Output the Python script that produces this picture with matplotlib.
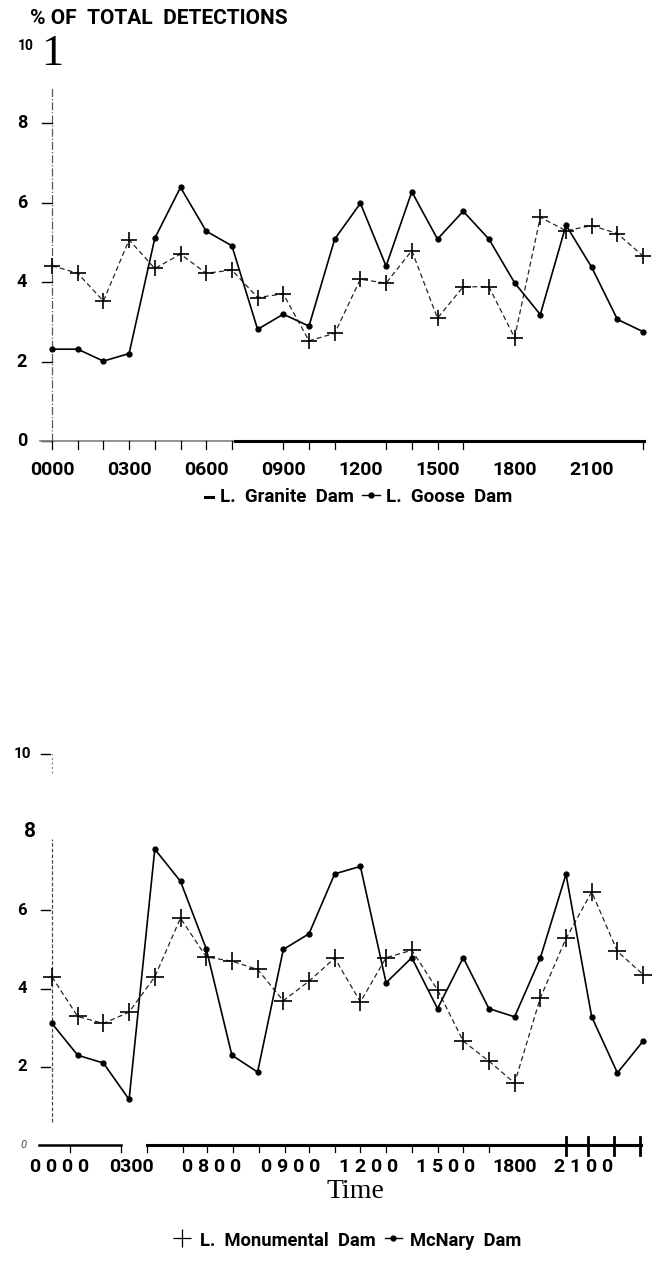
import numpy as np
import matplotlib
matplotlib.use('Agg')
import matplotlib.pyplot as plt

# ---------------- data ----------------
hours = np.arange(24)
granite = [4.41, 4.22, 3.52, 5.06, 4.34, 4.70, 4.22, 4.30, 3.61, 3.70, 2.52, 2.71,
           4.07, 3.97, 4.79, 3.09, 3.88, 3.88, 2.60, 5.63, 5.29, 5.42, 5.22, 4.65]
goose = [2.31, 2.31, 2.01, 2.20, 5.10, 6.38, 5.28, 4.91, 2.81, 3.19, 2.89, 5.08,
         5.98, 4.40, 6.27, 5.08, 5.78, 5.08, 3.98, 3.18, 5.43, 4.37, 3.06, 2.75]
monumental = [4.30, 3.29, 3.11, 3.40, 4.30, 5.80, 4.81, 4.70, 4.49, 3.69, 4.19, 4.78,
              3.66, 4.79, 4.98, 3.97, 2.66, 2.15, 1.59, 3.76, 5.28, 6.47, 4.95, 4.36]
mcnary = [3.11, 2.30, 2.10, 1.17, 7.56, 6.74, 5.02, 2.30, 1.87, 5.00, 5.40, 6.93,
          7.12, 4.15, 4.79, 3.49, 4.79, 3.49, 3.28, 4.78, 6.92, 3.28, 1.85, 2.66]

top_yticks = [0, 2, 4, 6, 8]
top_xlabels = ['0000', '0300', '0600', '0900', '1200', '1500', '1800', '2100']
top_xlabel_hours = [0, 3, 6, 9, 12, 15, 18, 21]
top_minor_hours = [0, 1, 2, 3, 4, 5, 6, 7, 9, 10, 11, 13, 14, 15, 16, 23]

bottom_yticks = [2, 4, 6, 8, 10]
bottom_xlabels = ['0 0 0 0', '0300', '0 8 0 0', '0 9 0 0', '1 2 0 0', '1 5 0 0', '1800', '2 1 0 0']
bottom_xlabel_hours = [0.3, 3.1, 6.2, 9.3, 12.3, 15.3, 18.0, 20.7]
bottom_minor_hours = [0.7, 2.7, 3.7, 5.1, 6.05, 7.05, 8.05, 9.05, 10.0, 11.0, 12.0, 13.0, 14.0, 15.0, 16.0, 17.0]
bottom_major_hours = [20.0, 20.87, 21.87, 22.88]

titles = {'y': '% OF  TOTAL  DETECTIONS', 'x': 'Time'}
legend_top = ['L.  Granite  Dam', 'L.  Goose  Dam']
legend_bottom = ['L.  Monumental  Dam', 'McNary  Dam']

# ---------------- layout helpers ----------------
W, H = 669, 1276
SANS = ['Roboto', 'DejaVu Sans']
SERIF = ['Liberation Serif', 'DejaVu Serif']

fig = plt.figure(figsize=(W / 100, H / 100), dpi=100)


def X(px):
    return (px - 52) / 25.7


def axes_px(top, bottom):
    return fig.add_axes([0, 1 - bottom / H, 1, (bottom - top) / H])


# ---------------- top panel ----------------
ax = axes_px(0, 560)
Yt = lambda py: (441 - py) / 39.75
ax.set_xlim(X(0), X(W))
ax.set_ylim(Yt(560), Yt(0))
ax.axis('off')

# y axis
ax.plot([0, 0], [0, Yt(88)], color='0.35', lw=0.9, ls='-.', clip_on=False)
for v in top_yticks:
    ax.plot([X(42), 0], [v, v], color='k', lw=1.0)
    ax.text(X(22), v, str(v), ha='center', va='center', fontsize=13,
            fontweight='bold', family=SANS)
ax.text(X(26), Yt(46), '10', ha='center', va='center', fontsize=10,
        fontweight='bold', family=SANS)
ax.text(X(52), Yt(54), '1', ha='center', va='center', fontsize=32, family=SERIF)

# x axis
ax.plot([X(40), X(235)], [0, 0], color='0.5', lw=1.2)
ax.plot([X(235), X(644)], [0, 0], color='k', lw=2.2)
for h in top_minor_hours:
    ax.plot([h, h], [0, Yt(449)], color='k', lw=0.9)
for h, lab in zip(top_xlabel_hours, top_xlabels):
    ax.text(h, Yt(470), lab, ha='center', va='center', fontsize=14,
            fontweight='bold', family=SANS)

ax.text(X(30), Yt(18), titles['y'], ha='left', va='center', fontsize=15,
        fontweight='bold', family=SANS)

# series
ax.plot(hours, granite, color='0.15', lw=0.9, ls=(0, (4, 2.5)), marker='+',
        ms=11, mew=1.2, mec='k')
ax.plot(hours, goose, color='k', lw=1.2, marker='o', ms=3.5)

# legend
ly = Yt(497)
ax.plot([X(205), X(213)], [ly, ly], color='k', lw=2.2)
ax.text(X(220), ly, legend_top[0], ha='left', va='center', fontsize=13.5,
        fontweight='bold', family=SANS)
ax.plot([X(362), X(380)], [ly + 0.05, ly + 0.05], color='k', lw=1.0)
ax.plot([X(371)], [ly + 0.05], 'ko', ms=3.5)
ax.text(X(386), ly, legend_top[1], ha='left', va='center', fontsize=13.5,
        fontweight='bold', family=SANS)

# ---------------- bottom panel ----------------
bx = axes_px(600, H)
Yb = lambda py: (1145.3 - py) / 39.17
bx.set_xlim(X(0), X(W))
bx.set_ylim(Yb(H), Yb(600))
bx.axis('off')

bx.plot([0, 0], [Yb(1122), Yb(839)], color='0.3', lw=0.9, ls=(0, (3, 1.5)), clip_on=False)
bx.plot([0, 0], [Yb(773), 10], color='0.5', lw=0.8, ls=(0, (2, 2)))
for v in bottom_yticks:
    if v == 8:
        bx.text(X(30), v, str(v), ha='center', va='center', fontsize=15,
                fontweight='bold', family=SANS)
        continue
    bx.plot([X(41), X(50)], [v, v], color='k', lw=1.0)
    bx.text(X(22), v, str(v), ha='center', va='center',
            fontsize=11 if v == 10 else 12, fontweight='bold', family=SANS)
bx.text(X(23), 0, '0', ha='center', va='center', fontsize=8, style='italic',
        color='0.3', family=SANS)

# x axis (broken)
bx.plot([X(39), X(121)], [0, 0], color='k', lw=1.8)
bx.plot([X(147), X(641)], [0, 0], color='k', lw=2.2)
for h in bottom_minor_hours:
    bx.plot([h, h], [0, Yb(1152)], color='k', lw=0.9)
for h in bottom_major_hours:
    bx.plot([h, h], [Yb(1137), Yb(1155)], color='k', lw=2.0)
for h, lab in zip(bottom_xlabel_hours, bottom_xlabels):
    bx.text(h, Yb(1167), lab, ha='center', va='center', fontsize=14,
            fontweight='bold', family=SANS)

bx.text(X(355), Yb(1191), titles['x'], ha='center', va='center', fontsize=20,
        family=SERIF)

# series
bx.plot(hours, monumental, color='0.15', lw=0.9, ls=(0, (4, 2.5)), marker='+',
        ms=13, mew=1.2, mec='k')
bx.plot(hours, mcnary, color='k', lw=1.2, marker='o', ms=3.5)

# legend
ly = Yb(1241)
bx.plot([X(182)], [ly + 0.08], marker='+', color='k', ms=13, mew=0.9)
bx.text(X(200), ly, legend_bottom[0], ha='left', va='center', fontsize=13.2,
        fontweight='bold', family=SANS)
bx.plot([X(385), X(402)], [ly + 0.08, ly + 0.08], color='k', lw=1.0)
bx.plot([X(393)], [ly + 0.08], 'ko', ms=3.5)
bx.text(X(410), ly, legend_bottom[1], ha='left', va='center', fontsize=13.2,
        fontweight='bold', family=SANS)

fig.savefig('out.png', dpi=100, facecolor='white')
